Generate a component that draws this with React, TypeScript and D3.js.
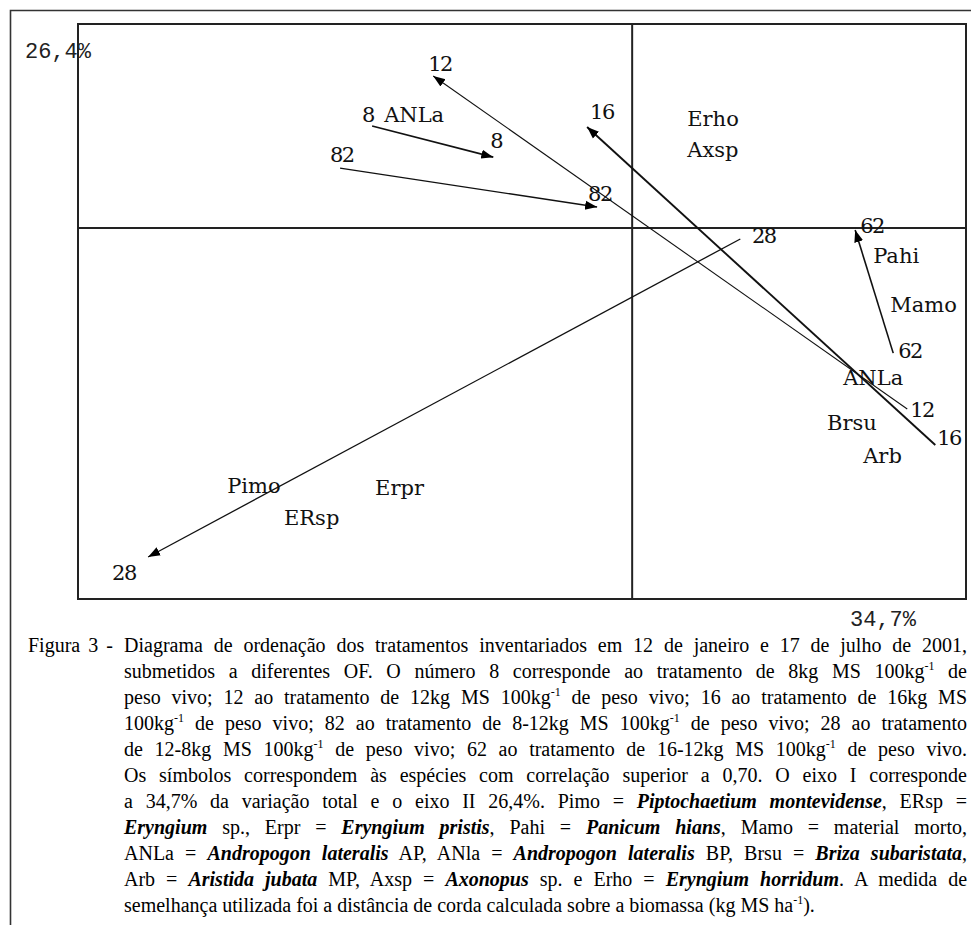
import React, { useEffect, useRef } from "react";
import * as d3 from "d3";

// treatment arrows: first inventory -> second inventory (axis I, axis II scores)
const treatments = ["8", "82", "12", "16", "28", "62"];
const fromAxisI = [-0.779, -0.875, 0.824, 0.908, 0.324, 0.782];
const fromAxisII = [0.495, 0.291, -0.878, -1.053, -0.053, -0.607];
const toAxisI = [-0.416, -0.105, -0.596, -0.135, -1.45, 0.668];
const toAxisII = [0.344, 0.102, 0.738, 0.49, -1.596, -0.01];

// where the treatment numbers are written (left / baseline of text)
const fromLabelI = [-0.809, -0.905, 0.833, 0.914, 0.359, 0.797];
const fromLabelII = [0.514, 0.32, -0.917, -1.053, -0.073, -0.631];
const toLabelI = [-0.425, -0.132, -0.611, -0.126, -1.558, 0.683];
const toLabelII = [0.388, 0.131, 0.762, 0.529, -1.708, -0.024];

// species with correlation > 0.70
const species = ["ANLa", "Erho", "Axsp", "Pahi", "Mamo", "ANLa", "Brsu", "Arb", "Pimo", "ERsp", "Erpr"];
const speciesI = [-0.743, 0.165, 0.165, 0.722, 0.773, 0.632, 0.584, 0.692, -1.213, -1.043, -0.77];
const speciesII = [0.514, 0.495, 0.344, -0.17, -0.408, -0.762, -0.98, -1.14, -1.286, -1.441, -1.295];

const axisILabel = "34,7%";
const axisIILabel = "26,4%";

const figureTag = "Figura 3 -";
// caption lines, segments: [text, style] with b = bold italic, s = superscript
const captionLines: [string, string?][][] = [
  [["Diagrama de ordenação dos tratamentos inventariados em 12 de janeiro e 17 de julho de 2001,"]],
  [["submetidos a diferentes OF. O número 8 corresponde ao tratamento de 8kg MS 100kg"], ["-1", "s"], [" de"]],
  [["peso vivo; 12 ao tratamento de 12kg MS 100kg"], ["-1", "s"], [" de peso vivo; 16 ao tratamento de 16kg MS"]],
  [["100kg"], ["-1", "s"], [" de peso vivo; 82 ao tratamento de 8-12kg MS 100kg"], ["-1", "s"], [" de peso vivo; 28 ao tratamento"]],
  [["de 12-8kg MS 100kg"], ["-1", "s"], [" de peso vivo; 62 ao tratamento de 16-12kg MS 100kg"], ["-1", "s"], [" de peso vivo."]],
  [["Os símbolos correspondem às espécies com correlação superior a 0,70. O eixo I corresponde"]],
  [["a 34,7% da variação total e o eixo II 26,4%. Pimo = "], ["Piptochaetium montevidense", "b"], [", ERsp ="]],
  [["Eryngium", "b"], [" sp., Erpr = "], ["Eryngium pristis", "b"], [", Pahi = "], ["Panicum hians", "b"], [", Mamo = material morto,"]],
  [["ANLa = "], ["Andropogon lateralis", "b"], [" AP, ANla = "], ["Andropogon lateralis", "b"], [" BP, Brsu = "], ["Briza subaristata", "b"], [","]],
  [["Arb = "], ["Aristida jubata", "b"], [" MP, Axsp = "], ["Axonopus", "b"], [" sp. e Erho = "], ["Eryngium horridum", "b"], [". A medida de"]],
  [["semelhança utilizada foi a distância de corda calculada sobre a biomassa (kg MS ha"], ["-1", "s"], [")."]],
];

const arrowStroke: Record<string, number> = { "8": 1.6, "82": 1.3, "12": 1.1, "16": 1.9, "28": 1.3, "62": 1.6 };

export default function App() {
  const ref = useRef<SVGSVGElement>(null);

  useEffect(() => {
    const W = 971, H = 925;
    const plot = { left: 78, right: 966, top: 24, bottom: 599 };
    const svg = d3.select(ref.current);
    svg.selectAll("*").remove();

    const x = d3.scaleLinear().domain([-1.66, 1.0]).range([plot.left, plot.right]);
    const y = d3.scaleLinear().domain([-1.8, 0.99]).range([plot.bottom, plot.top]);

    svg.append("rect").attr("width", W).attr("height", H).attr("fill", "#fff");

    // outer figure frame
    svg.append("path")
      .attr("d", `M10.5,${H}V10.5H${W}`)
      .attr("fill", "none").attr("stroke", "#333").attr("stroke-width", 1.6);

    // plot frame and the two zero axes
    svg.append("rect")
      .attr("x", plot.left).attr("y", plot.top)
      .attr("width", plot.right - plot.left).attr("height", plot.bottom - plot.top)
      .attr("fill", "none").attr("stroke", "#222").attr("stroke-width", 2);
    svg.append("line")
      .attr("x1", plot.left).attr("x2", plot.right).attr("y1", y(0)).attr("y2", y(0))
      .attr("stroke", "#222").attr("stroke-width", 2);
    svg.append("line")
      .attr("x1", x(0)).attr("x2", x(0)).attr("y1", plot.top).attr("y2", plot.bottom)
      .attr("stroke", "#222").attr("stroke-width", 2);

    svg.append("defs").append("marker")
      .attr("id", "head")
      .attr("markerUnits", "userSpaceOnUse")
      .attr("markerWidth", 14).attr("markerHeight", 12)
      .attr("viewBox", "0 -6 14 12")
      .attr("refX", 12).attr("refY", 0)
      .attr("orient", "auto")
      .append("path").attr("d", "M0,-4.5L12,0L0,4.5Z").attr("fill", "#000");

    const arrows = treatments.map((t, i) => ({
      t, x1: fromAxisI[i], y1: fromAxisII[i], x2: toAxisI[i], y2: toAxisII[i],
    }));

    svg.append("g").selectAll("line")
      .data(arrows)
      .join("line")
      .attr("x1", d => x(d.x1)).attr("y1", d => y(d.y1))
      .attr("x2", d => x(d.x2)).attr("y2", d => y(d.y2))
      .attr("stroke", "#111")
      .attr("stroke-width", d => arrowStroke[d.t])
      .attr("marker-end", "url(#head)");

    const labels = svg.append("g")
      .attr("font-family", "'DejaVu Serif', serif")
      .attr("font-size", 21)
      .attr("fill", "#111");

    const numLabels = treatments.flatMap((t, i) => [
      { t, u: fromLabelI[i], v: fromLabelII[i] },
      { t, u: toLabelI[i], v: toLabelII[i] },
    ]);
    labels.selectAll("text.num")
      .data(numLabels)
      .join("text")
      .attr("class", "num")
      .attr("x", d => x(d.u)).attr("y", d => y(d.v))
      .attr("textLength", d => d.t.length * 12.6)
      .text(d => d.t);

    labels.selectAll("text.sp")
      .data(species.map((s, i) => ({ s, u: speciesI[i], v: speciesII[i] })))
      .join("text")
      .attr("class", "sp")
      .attr("x", d => x(d.u)).attr("y", d => y(d.v))
      .text(d => d.s);

    // percentage of variation on each axis
    const pct = svg.append("g")
      .attr("font-family", "'Liberation Mono', 'Courier New', monospace")
      .attr("font-size", 22)
      .attr("fill", "#222");
    pct.append("text").attr("x", 25).attr("y", 58).text(axisIILabel);
    pct.append("text").attr("x", 850).attr("y", 626).text(axisILabel);

    // caption, justified between indent and right edge
    const cap = svg.append("g")
      .attr("font-family", "'Liberation Serif', 'Times New Roman', serif")
      .attr("font-size", 20)
      .attr("fill", "#000");
    const capLeft = 124, capRight = 967, capTop = 652, lineGap = 26;
    cap.append("text").attr("x", 28).attr("y", capTop)
      .style("word-spacing", "3px").text(figureTag);

    captionLines.forEach((segs, i) => {
      const t = cap.append("text")
        .attr("x", capLeft).attr("y", capTop + i * lineGap)
        .style("white-space", "pre");
      let raised = false;
      segs.forEach(([str, st]) => {
        const ts = t.append("tspan").text(str);
        if (st === "b") ts.attr("font-weight", "bold").attr("font-style", "italic");
        if (st === "s") {
          ts.attr("font-size", 12).attr("dy", -8);
          raised = true;
        } else if (raised) {
          ts.attr("dy", 8);
          raised = false;
        }
      });
      if (i < captionLines.length - 1) {
        const natural = (t.node() as SVGTextElement).getComputedTextLength();
        const gaps = segs.map(s => s[0]).join("").split(" ").length - 1;
        t.style("word-spacing", `${(capRight - capLeft - natural) / gaps}px`);
      }
    });
  }, []);

  return (
    <svg
      ref={ref}
      width={971}
      height={925}
      style={{ position: "absolute", left: 0, top: 0, display: "block" }}
    />
  );
}
